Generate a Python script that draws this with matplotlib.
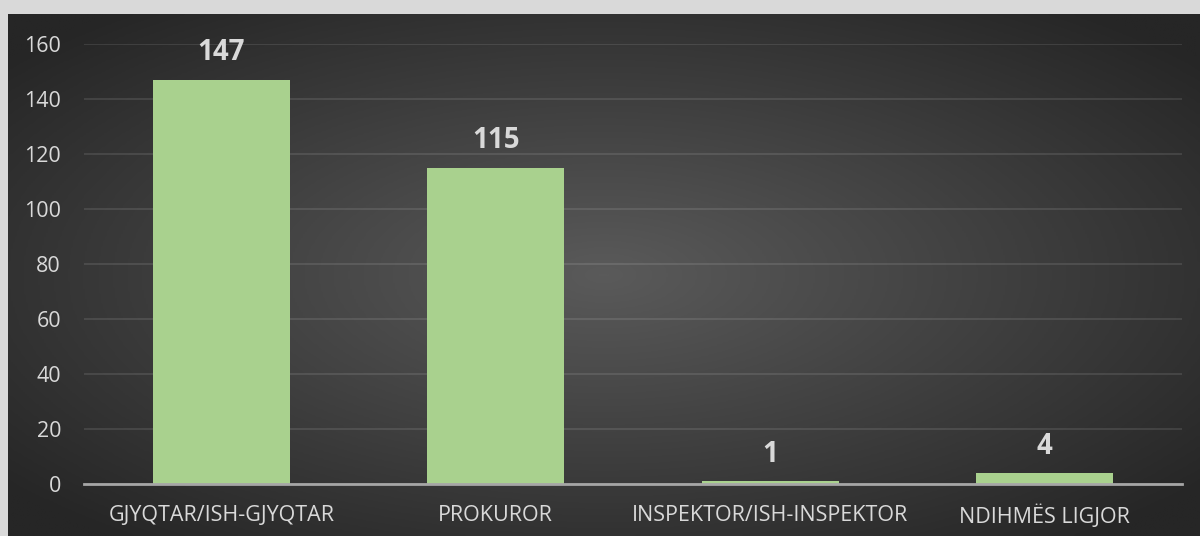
import numpy as np
import matplotlib.pyplot as plt
from matplotlib.colors import LinearSegmentedColormap

categories = ["GJYQTAR/ISH-GJYQTAR", "PROKUROR", "INSPEKTOR/ISH-INSPEKTOR", "NDIHMËS LIGJOR"]
values = [147, 115, 1, 4]
y_ticks = [0, 20, 40, 60, 80, 100, 120, 140, 160]

plt.rcParams['font.family'] = ['Open Sans', 'DejaVu Sans']

fig = plt.figure(figsize=(12, 5.36), dpi=100)
fig.patch.set_facecolor('#D9D9D9')

# dark panel with radial gradient
bg = fig.add_axes([8 / 1200, 0, 1192 / 1200, 522 / 536])
bg.set_axis_off()
xx, yy = np.meshgrid(np.linspace(-1, 1, 600), np.linspace(-1, 1, 260))
r = np.clip(np.sqrt(xx ** 2 + yy ** 2) / 1.3, 0, 1)
cmap = LinearSegmentedColormap.from_list('bg', ['#5a5a5a', '#262626'])
bg.imshow(r, cmap=cmap, aspect='auto', extent=[0, 1, 0, 1], interpolation='bilinear')

ax = fig.add_axes([84 / 1200, (536 - 484) / 536, (1182 - 84) / 1200, 440 / 536])
ax.patch.set_alpha(0)
x = np.arange(len(categories))
ax.bar(x, values, width=0.5, color='#A9D18E', zorder=3)
ax.set_xlim(-0.5, len(categories) - 0.5)
ax.set_ylim(0, 160)
ax.set_yticks(y_ticks)
ax.set_xticks(x)
ax.set_xticklabels(categories)
ax.tick_params(axis='both', length=0, colors='#D9D9D9', labelsize=15.5)
ax.tick_params(axis='x', pad=15)
ax.tick_params(axis='y', pad=16.5)
ax.grid(axis='y', color='#ffffff', alpha=0.12, linewidth=1.2, zorder=0)
for s in ['top', 'right', 'left']:
    ax.spines[s].set_visible(False)
ax.spines['bottom'].set_color('#A6A6A6')
ax.spines['bottom'].set_linewidth(2)
ax.spines['bottom'].set_zorder(4)

for xi, v in zip(x, values):
    ax.annotate(str(v), (xi, v), xytext=(0, 9), textcoords='offset points',
                ha='center', va='bottom', color='#D9D9D9', fontsize=20, fontweight='bold')

fig.savefig('out.png', dpi=100, facecolor=fig.get_facecolor())
